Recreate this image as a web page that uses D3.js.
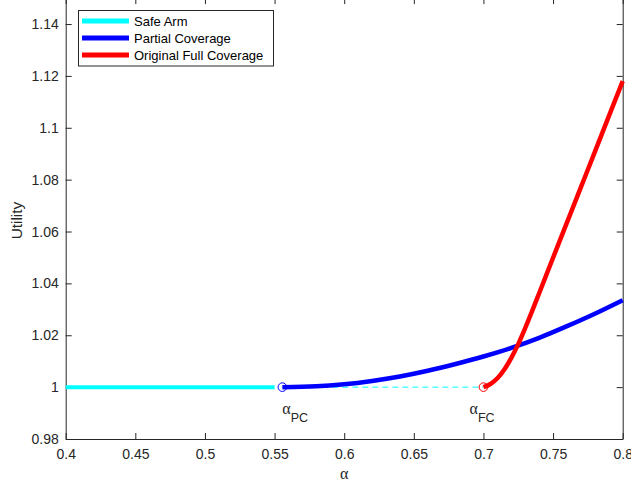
<!DOCTYPE html>
<html><head><meta charset="utf-8">
<script src="https://cdn.jsdelivr.net/npm/d3@7"></script>
<style>body{margin:0;background:#fff}svg{display:block}</style>
</head><body>
<script>
// ---- data ----
const safeAlpha = [0.40, 0.45, 0.50, 0.55];
const safeUtil  = [1.0, 1.0, 1.0, 1.0];

const partialAlpha = [0.5556, 0.58, 0.60, 0.62, 0.64, 0.66, 0.68, 0.70, 0.72, 0.74, 0.76, 0.78, 0.80];
const partialUtil  = [1.0000, 1.0003, 1.0011, 1.0024, 1.0041, 1.0063, 1.0089, 1.0118, 1.0151, 1.0190, 1.0235, 1.0283, 1.0335];

const fullAlpha = [0.700, 0.705, 0.710, 0.715, 0.720, 0.725, 0.730, 0.735, 0.740, 0.750, 0.760, 0.770, 0.780, 0.790, 0.800];
const fullUtil  = [1.0000, 1.0012, 1.0034, 1.0068, 1.0113, 1.0166, 1.0228, 1.0294, 1.0362, 1.0499, 1.0635, 1.0771, 1.0907, 1.1044, 1.1180];

const thresholdAlpha = [0.5556, 0.70];
const thresholdUtil  = [1.0, 1.0];
const thresholdNames = ["PC", "FC"];
const thresholdLabelAlpha = [0.5556, 0.69];
const thresholdLabelUtil = 0.9896;

const xTicks = [0.4, 0.45, 0.5, 0.55, 0.6, 0.65, 0.7, 0.75, 0.8];
const yTicks = [0.98, 1, 1.02, 1.04, 1.06, 1.08, 1.1, 1.12, 1.14];
const legendNames = ["Safe Arm", "Partial Coverage", "Original Full Coverage"];
const legendColors = ["#00ffff", "#0000ff", "#ff0000"];

// ---- layout ----
const W = 631, H = 484;
const L = 65.7, R = 622.7, T = -1.9, B = 439;
const ink = "#262626";

const svg = d3.select("body").append("svg").attr("width", W).attr("height", H);
const x = d3.scaleLinear().domain([0.4, 0.8]).range([L, R]);
const y = d3.scaleLinear().domain([0.98, 1.15]).range([B, T]);

const zip = (a, b) => a.map((v, i) => [v, b[i]]);
const line = d3.line().x(d => x(d[0])).y(d => y(d[1])).curve(d3.curveMonotoneX);

// axes
const fmt = d => String(+d.toFixed(2));
const gx = svg.append("g").attr("transform", `translate(0,${B})`)
  .call(d3.axisBottom(x).tickValues(xTicks).tickFormat(fmt).tickSizeInner(-6).tickSizeOuter(0).tickPadding(10));
const gxTop = svg.append("g").attr("transform", `translate(0,${T})`)
  .call(d3.axisTop(x).tickValues(xTicks).tickFormat("").tickSizeInner(-6).tickSizeOuter(0));
const gy = svg.append("g").attr("transform", `translate(${L},0)`)
  .call(d3.axisLeft(y).tickValues(yTicks).tickFormat(fmt).tickSizeInner(-6).tickSizeOuter(0).tickPadding(7));
const gyR = svg.append("g").attr("transform", `translate(${R},0)`)
  .call(d3.axisRight(y).tickValues(yTicks).tickFormat("").tickSizeInner(-6).tickSizeOuter(0));
[gx, gxTop, gy, gyR].forEach(g => {
  g.select(".domain").attr("stroke", ink).attr("stroke-width", 1);
  g.selectAll(".tick line").attr("stroke", ink).attr("stroke-width", 1);
  g.selectAll(".tick text").attr("fill", ink).attr("font-family", "Liberation Sans, Arial, sans-serif").attr("font-size", 14);
});

// plot contents
const plot = svg.append("g");
plot.append("path").datum(zip(thresholdAlpha, thresholdUtil)).attr("d", d3.line().x(d => x(d[0])).y(d => y(d[1])))
  .attr("fill", "none").attr("stroke", "#00ffff").attr("stroke-width", 1).attr("stroke-dasharray", "6,4");
plot.append("path").datum(zip(safeAlpha, safeUtil)).attr("d", line)
  .attr("fill", "none").attr("stroke", legendColors[0]).attr("stroke-width", 4);
plot.append("path").datum(zip(partialAlpha, partialUtil)).attr("d", line)
  .attr("fill", "none").attr("stroke", legendColors[1]).attr("stroke-width", 4.5);
plot.append("path").datum(zip(fullAlpha, fullUtil)).attr("d", line)
  .attr("fill", "none").attr("stroke", legendColors[2]).attr("stroke-width", 4.5);
plot.selectAll("circle.m").data(zip(thresholdAlpha, thresholdUtil)).join("circle")
  .attr("cx", d => x(d[0])).attr("cy", d => y(d[1])).attr("r", 4.3)
  .attr("fill", "none").attr("stroke", (d, i) => i === 0 ? "#0000ff" : "#ff0000").attr("stroke-width", 1);

// threshold labels
thresholdNames.forEach((n, i) => {
  const t = svg.append("text").attr("x", x(thresholdLabelAlpha[i])).attr("y", y(thresholdLabelUtil))
    .attr("fill", ink);
  t.append("tspan").attr("font-family", "Liberation Serif, serif").attr("font-size", 16).text("α");
  t.append("tspan").attr("font-family", "Liberation Sans, Arial, sans-serif").attr("font-size", 12.5)
    .attr("dy", 8).text(n);
});

// axis labels
svg.append("text").attr("x", x(0.6)).attr("y", 479).attr("text-anchor", "middle")
  .attr("font-family", "Liberation Serif, serif").attr("font-size", 16).attr("fill", ink).text("α");
svg.append("text").attr("transform", `translate(22,${(T + B) / 2 + 2}) rotate(-90)`).attr("text-anchor", "middle")
  .attr("font-family", "Liberation Sans, Arial, sans-serif").attr("font-size", 15.4).attr("fill", ink).text("Utility");

// legend
const lg = svg.append("g");
lg.append("rect").attr("x", 78.5).attr("y", 10.5).attr("width", 195).attr("height", 55.5)
  .attr("fill", "#fff").attr("stroke", ink).attr("stroke-width", 1);
legendNames.forEach((n, i) => {
  const cy = 21 + i * 17;
  lg.append("line").attr("x1", 82).attr("x2", 129).attr("y1", cy).attr("y2", cy)
    .attr("stroke", legendColors[i]).attr("stroke-width", 5);
  lg.append("text").attr("x", 134).attr("y", cy + 4.5).attr("font-family", "Liberation Sans, Arial, sans-serif")
    .attr("font-size", 13).attr("fill", "#000").text(n);
});
</script>
</body></html>
